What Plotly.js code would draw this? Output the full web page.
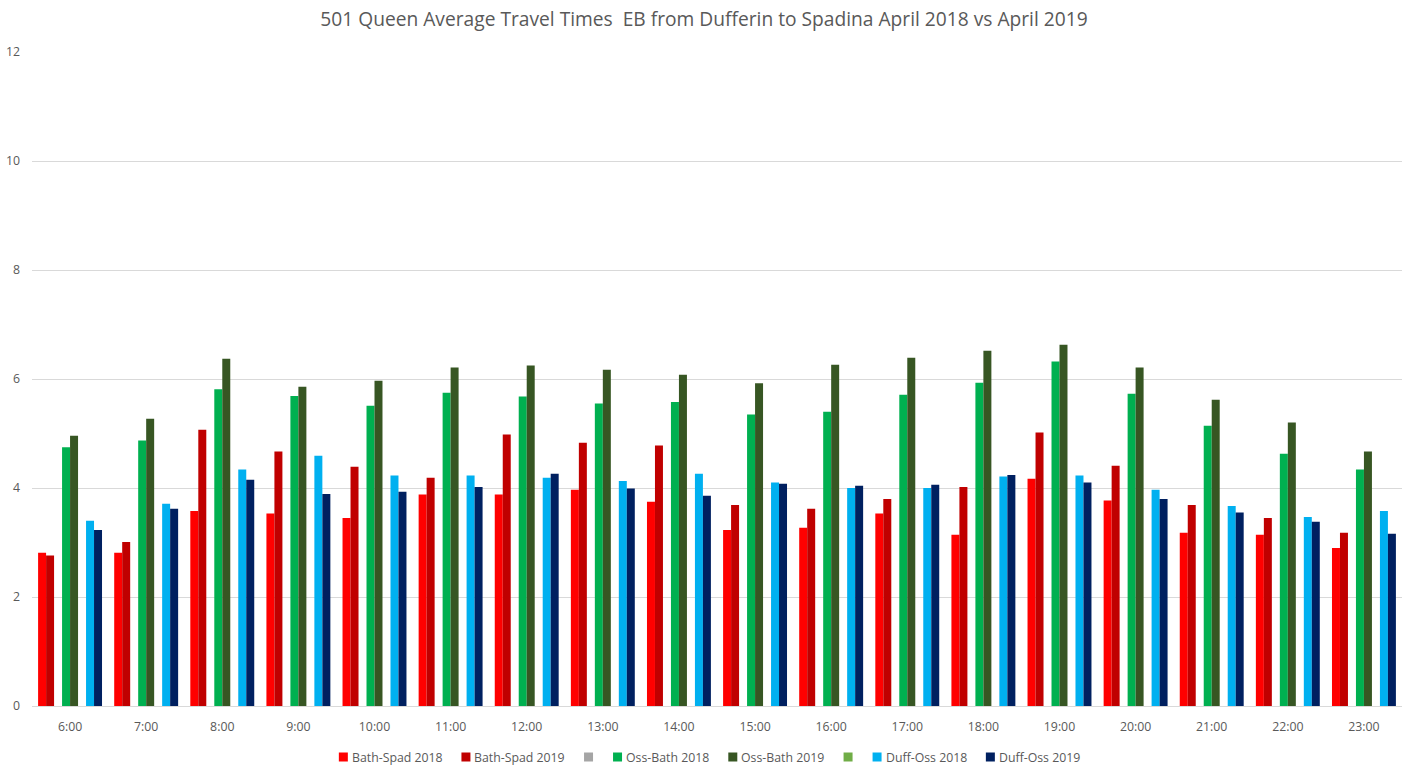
<!DOCTYPE html>
<html>
<head>
<meta charset="utf-8">
<script src="https://cdn.plot.ly/plotly-3.0.1.min.js"></script>
<style>html,body{margin:0;padding:0;background:#fff;}#chart{width:1408px;height:770px;}</style>
</head>
<body>
<div id="chart"></div>
<script>
const hours = ["6:00","7:00","8:00","9:00","10:00","11:00","12:00","13:00","14:00","15:00","16:00","17:00","18:00","19:00","20:00","21:00","22:00","23:00"];
const bathSpad2018 = [2.81,2.81,3.58,3.53,3.45,3.88,3.88,3.97,3.75,3.23,3.27,3.53,3.14,4.17,3.77,3.18,3.14,2.90];
const bathSpad2019 = [2.76,3.01,5.07,4.67,4.39,4.19,4.98,4.83,4.78,3.69,3.62,3.80,4.02,5.02,4.41,3.69,3.45,3.18];
const blankA = [null,null,null,null,null,null,null,null,null,null,null,null,null,null,null,null,null,null];
const ossBath2018 = [4.75,4.87,5.81,5.69,5.51,5.75,5.68,5.55,5.58,5.35,5.40,5.71,5.93,6.32,5.73,5.14,4.63,4.34];
const ossBath2019 = [4.96,5.27,6.37,5.86,5.97,6.21,6.25,6.17,6.08,5.92,6.26,6.39,6.52,6.63,6.21,5.62,5.20,4.67];
const blankB = [null,null,null,null,null,null,null,null,null,null,null,null,null,null,null,null,null,null];
const duffOss2018 = [3.40,3.71,4.34,4.59,4.23,4.23,4.19,4.13,4.26,4.10,4.00,4.00,4.21,4.23,3.97,3.67,3.47,3.58];
const duffOss2019 = [3.23,3.62,4.15,3.89,3.93,4.02,4.26,3.99,3.86,4.08,4.04,4.06,4.24,4.10,3.80,3.55,3.38,3.16];

const seriesNames = ["Bath-Spad 2018","Bath-Spad 2019","","Oss-Bath 2018","Oss-Bath 2019","","Duff-Oss 2018","Duff-Oss 2019"];
const seriesValues = [bathSpad2018,bathSpad2019,blankA,ossBath2018,ossBath2019,blankB,duffOss2018,duffOss2019];
const colors = ["#FF0000","#C00000","#A5A5A5","#00B050","#375623","#70AD47","#00B0F0","#002060"];

const W = 1408, H = 770;
const M = {l:32, r:6, t:52, b:64};
const plotW = W - M.l - M.r, plotH = H - M.t - M.b;
const FONT = "Open Sans, sans-serif";
const GREY = "#595959";

const traces = seriesNames.map((n,i)=>({
  type:"bar", name:n || " ", x:hours, y:seriesValues[i],
  marker:{color:colors[i], line:{width:0}},
  showlegend:false
}));

// Manual legend (Excel-style: small square, tight text)
const legendFontSize = 12.3;
const cv = document.createElement("canvas").getContext("2d");
cv.font = legendFontSize + "px 'Open Sans'";
const sq = 9, sqGap = 3, itemGap = 20;
const widths = seriesNames.map(n => sq + (n ? sqGap + cv.measureText(n).width : 0));
const total = widths.reduce((a,b)=>a+b,0) + itemGap*(widths.length-1);
const legendCenterPx = 709, legendYPx = 757;
let cx = legendCenterPx - total/2;
const shapes = [], annotations = [];
const px2x = p => (p - M.l)/plotW;
const py2y = p => (H - M.b - p)/plotH;
seriesNames.forEach((n,i)=>{
  shapes.push({type:"rect", xref:"paper", yref:"paper",
    x0:px2x(cx), x1:px2x(cx+sq), y0:py2y(legendYPx+sq/2), y1:py2y(legendYPx-sq/2),
    fillcolor:colors[i], line:{width:0}});
  if(n){
    annotations.push({xref:"paper", yref:"paper", x:px2x(cx+sq+sqGap), y:py2y(legendYPx),
      xanchor:"left", yanchor:"middle", text:n, showarrow:false,
      font:{family:FONT, size:legendFontSize, color:GREY}, borderpad:0});
  }
  cx += widths[i] + itemGap;
});

const layout = {
  width:W, height:H,
  paper_bgcolor:"#fff", plot_bgcolor:"#fff",
  font:{family:FONT, color:GREY, size:12},
  title:{text:"501 Queen Average Travel Times  EB from Dufferin to Spadina April 2018 vs April 2019",
    font:{size:19.2,color:GREY,family:FONT}, x:0.5, xanchor:"center", xref:"container",
    y:1-19/H, yanchor:"middle", yref:"container"},
  margin:M,
  showlegend:false,
  barmode:"group", bargap:0.16, bargroupgap:0,
  xaxis:{type:"category", showgrid:false, zeroline:false, showline:true, linecolor:"#D9D9D9", linewidth:1,
    ticks:"", ticklabelstandoff:9, tickfont:{size:12.3,color:GREY}, automargin:false},
  yaxis:{range:[0,12], dtick:2, tick0:0, showgrid:true, gridcolor:"#D9D9D9", gridwidth:1, zeroline:false,
    showline:false, ticks:"", ticklabelstandoff:11, tickfont:{size:12.3,color:GREY}, automargin:false},
  shapes:shapes, annotations:annotations
};

Plotly.newPlot("chart", traces, layout, {displayModeBar:false, staticPlot:true});
</script>
</body>
</html>
